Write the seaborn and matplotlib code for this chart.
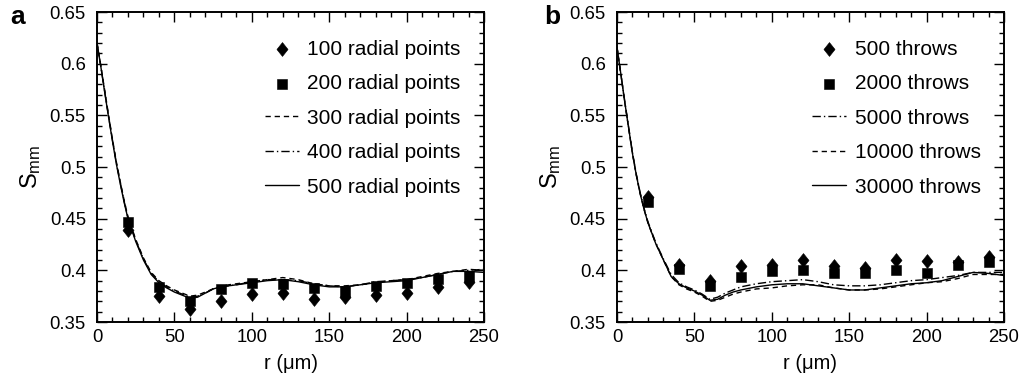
import numpy as np
import pandas as pd
import matplotlib
matplotlib.use("Agg")
import matplotlib.pyplot as plt
import seaborn as sns
from matplotlib.path import Path
from matplotlib.markers import MarkerStyle
from matplotlib.ticker import MultipleLocator

# ---------------- data ----------------
r_pts = [20, 40, 60, 80, 100, 120, 140, 160, 180, 200, 220, 240]
a_100 = [0.439, 0.375, 0.363, 0.370, 0.377, 0.378, 0.372, 0.374, 0.376, 0.378, 0.384, 0.389]
a_200 = [0.447, 0.384, 0.370, 0.382, 0.388, 0.387, 0.383, 0.380, 0.385, 0.388, 0.392, 0.395]

r_line = [0, 2.5, 5, 7.5, 10, 12.5, 15, 17.5, 20, 25, 30, 35, 40, 45, 50, 55, 60, 65, 70, 75,
          80, 90, 100, 110, 120, 130, 140, 150, 160, 170, 180, 190, 200, 210, 220, 230, 240, 250]
a_300 = [0.620, 0.598, 0.574, 0.550, 0.527, 0.505, 0.486, 0.468, 0.452, 0.430, 0.412, 0.398, 0.390,
         0.385, 0.381, 0.378, 0.375, 0.376, 0.379, 0.382, 0.385, 0.387, 0.389, 0.391, 0.393, 0.391,
         0.387, 0.385, 0.385, 0.386, 0.388, 0.390, 0.391, 0.394, 0.397, 0.399, 0.401, 0.400]
a_400 = [0.620, 0.597, 0.573, 0.549, 0.526, 0.504, 0.485, 0.467, 0.451, 0.429, 0.411, 0.397, 0.389,
         0.384, 0.380, 0.377, 0.374, 0.375, 0.378, 0.382, 0.384, 0.386, 0.389, 0.391, 0.391, 0.390,
         0.387, 0.385, 0.384, 0.386, 0.389, 0.390, 0.391, 0.393, 0.396, 0.399, 0.400, 0.401]
a_500 = [0.620, 0.597, 0.572, 0.548, 0.525, 0.503, 0.484, 0.466, 0.450, 0.428, 0.410, 0.396, 0.388,
         0.383, 0.379, 0.376, 0.373, 0.374, 0.378, 0.382, 0.384, 0.386, 0.388, 0.390, 0.391, 0.389,
         0.386, 0.384, 0.384, 0.386, 0.388, 0.389, 0.390, 0.393, 0.396, 0.399, 0.399, 0.398]

b_500 = [0.471, 0.405, 0.390, 0.404, 0.405, 0.410, 0.404, 0.402, 0.410, 0.409, 0.408, 0.413]
b_2000 = [0.466, 0.401, 0.385, 0.394, 0.399, 0.400, 0.397, 0.397, 0.400, 0.397, 0.405, 0.408]
b_5000 = [0.616, 0.590, 0.564, 0.539, 0.514, 0.493, 0.475, 0.460, 0.447, 0.427, 0.411, 0.396, 0.388,
          0.384, 0.381, 0.377, 0.372, 0.374, 0.378, 0.381, 0.384, 0.387, 0.389, 0.390, 0.391, 0.389,
          0.386, 0.385, 0.385, 0.386, 0.388, 0.390, 0.391, 0.393, 0.395, 0.398, 0.398, 0.398]
b_10000 = [0.616, 0.590, 0.563, 0.538, 0.513, 0.492, 0.474, 0.459, 0.446, 0.426, 0.410, 0.394, 0.386,
           0.382, 0.379, 0.375, 0.370, 0.371, 0.374, 0.377, 0.379, 0.382, 0.383, 0.385, 0.386, 0.386,
           0.383, 0.381, 0.381, 0.382, 0.384, 0.386, 0.388, 0.389, 0.392, 0.396, 0.396, 0.396]
b_30000 = [0.616, 0.590, 0.563, 0.538, 0.513, 0.492, 0.474, 0.459, 0.446, 0.426, 0.410, 0.394, 0.387,
           0.383, 0.380, 0.376, 0.371, 0.372, 0.376, 0.379, 0.381, 0.384, 0.386, 0.387, 0.387, 0.385,
           0.383, 0.381, 0.381, 0.383, 0.385, 0.387, 0.388, 0.390, 0.394, 0.398, 0.397, 0.395]

x_ticks = [0, 50, 100, 150, 200, 250]
y_ticks = [0.35, 0.40, 0.45, 0.50, 0.55, 0.60, 0.65]
y_ticklabels = ["0.35", "0.4", "0.45", "0.5", "0.55", "0.6", "0.65"]

labels_a = ["100 radial points", "200 radial points", "300 radial points",
            "400 radial points", "500 radial points"]
labels_b = ["500 throws", "2000 throws", "5000 throws", "10000 throws", "30000 throws"]

# ---------------- style ----------------
sns.set_style("ticks")
plt.rcParams["font.family"] = ["Liberation Sans", "DejaVu Sans"]
plt.rcParams["mathtext.default"] = "regular"
plt.rcParams["text.color"] = "black"
plt.rcParams["axes.labelcolor"] = "black"
plt.rcParams["xtick.color"] = "black"
plt.rcParams["ytick.color"] = "black"

fig = plt.figure(figsize=(10.22, 3.86), dpi=100)
axa = fig.add_axes([0.0949, 0.1658, 0.3787, 0.8031])
axb = fig.add_axes([0.6037, 0.1658, 0.3787, 0.8031])

diamond = MarkerStyle(Path([(0, 1), (0.8, 0), (0, -1), (-0.8, 0), (0, 1)],
                           [Path.MOVETO, Path.LINETO, Path.LINETO, Path.LINETO, Path.CLOSEPOLY]))

DASHED = (0, (3.8, 2.8))
DASHDOT = (0, (6.0, 2.2, 1.0, 2.2))
LW = 1.0


def scatter(ax, y, marker, s, label):
    sns.scatterplot(x=r_pts, y=y, ax=ax, marker=marker, s=s, color="black",
                    edgecolor="black", linewidth=0.4, label=label, zorder=3)


def line(ax, y, ls, label):
    sns.lineplot(x=r_line, y=y, ax=ax, color="black", linewidth=LW, linestyle=ls,
                 label=label, zorder=2)


scatter(axa, a_100, diamond, 100, labels_a[0])
scatter(axa, a_200, "s", 48, labels_a[1])
line(axa, a_300, DASHED, labels_a[2])
line(axa, a_400, DASHDOT, labels_a[3])
line(axa, a_500, "-", labels_a[4])

scatter(axb, b_500, diamond, 100, labels_b[0])
scatter(axb, b_2000, "s", 48, labels_b[1])
line(axb, b_5000, DASHDOT, labels_b[2])
line(axb, b_10000, DASHED, labels_b[3])
line(axb, b_30000, "-", labels_b[4])

for ax, labs, tag, tagx in [(axa, labels_a, "a", 0.010), (axb, labels_b, "b", 0.533)]:
    ax.set_xlim(0, 250)
    ax.set_ylim(0.35, 0.65)
    ax.set_xticks(x_ticks)
    ax.set_yticks(y_ticks)
    ax.set_yticklabels(y_ticklabels)
    ax.xaxis.set_minor_locator(MultipleLocator(10))
    ax.yaxis.set_minor_locator(MultipleLocator(0.01))
    ax.tick_params(which="both", direction="in", top=True, right=True, width=1.0,
                   color="black", labelsize=13.3, labelcolor="black")
    ax.tick_params(which="major", length=7)
    ax.tick_params(which="minor", length=3.5)
    ax.tick_params(axis="y", pad=8)
    ax.tick_params(axis="x", pad=5)
    for sp in ax.spines.values():
        sp.set_linewidth(1.4)
        sp.set_color("black")
    ax.set_xlabel("r (μm)", fontsize=14.5, labelpad=6, color="black")
    ax.set_ylabel("$S_{mm}$", fontsize=17, labelpad=5, color="black")
    handles, labels = ax.get_legend_handles_labels()
    hmap = dict(zip(labels, handles))
    leg = ax.legend([hmap[l] for l in labs], labs, loc="upper right",
                    bbox_to_anchor=(0.94, 0.91), frameon=False, fontsize=15,
                    borderpad=0, borderaxespad=0, handlelength=1.65, handletextpad=0.4,
                    labelspacing=0.74)
    for t in leg.get_texts():
        t.set_color("black")
    fig.text(tagx, 1 - 24 / 386, tag, fontsize=19, fontweight="bold", va="baseline",
             color="black")

fig.savefig("out.png", dpi=100)
